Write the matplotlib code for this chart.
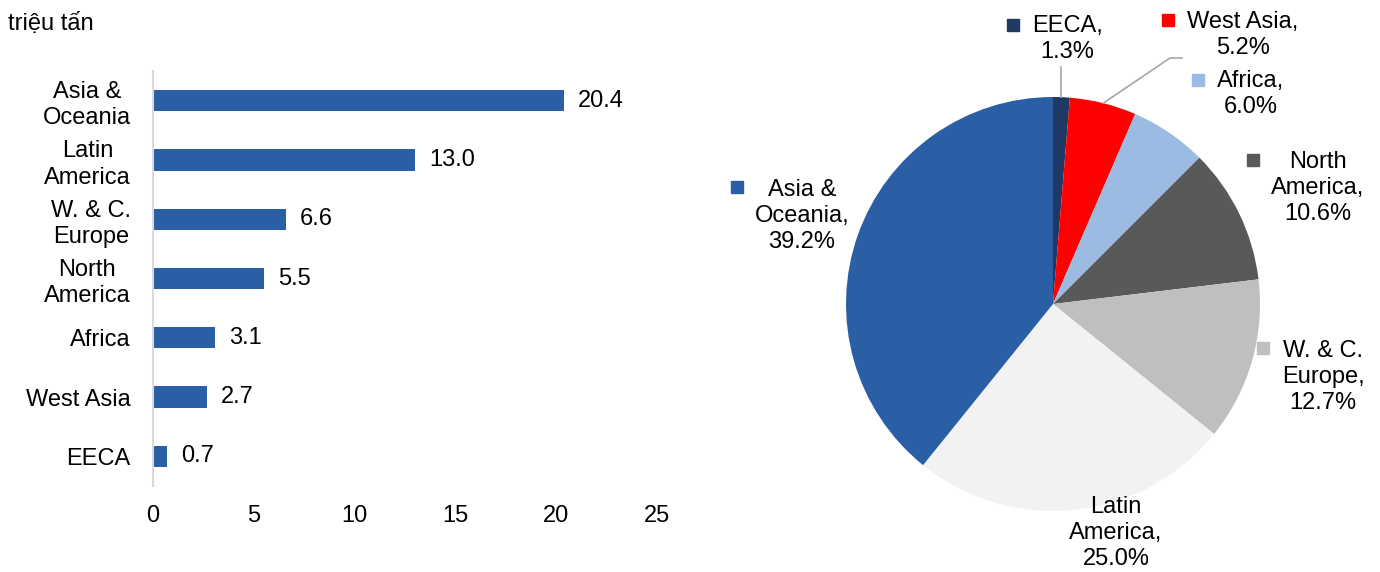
import numpy as np
import matplotlib.pyplot as plt

plt.rcParams['font.family'] = ['Liberation Sans', 'DejaVu Sans']

# bar chart data (triệu tấn)
bar_regions = ['Asia &\nOceania', 'Latin\nAmerica', 'W. & C.\nEurope', 'North\nAmerica',
               'Africa', 'West Asia', 'EECA']
bar_values = [20.4, 13.0, 6.6, 5.5, 3.1, 2.7, 0.7]
x_ticks = [0, 5, 10, 15, 20, 25]

# pie chart data (share, %)
pie_regions = ['EECA', 'West Asia', 'Africa', 'North\nAmerica', 'W. & C.\nEurope',
               'Latin\nAmerica', 'Asia &\nOceania']
pie_shares = [1.3, 5.2, 6.0, 10.6, 12.7, 25.0, 39.2]
pie_colors = ['#1F3864', '#FF0000', '#9BBBE3', '#595959', '#BFBFBF', '#F2F2F2', '#2B5FA5']

blue = '#2B5FA5'
fs = 17
W, H = 1380, 572

fig = plt.figure(figsize=(13.8, 5.72), dpi=100)

# ---- bar chart ----
ax = fig.add_axes([153 / W, 1 - 486 / H, 504 / W, 415 / H])
y = np.arange(len(bar_values))
bars = ax.barh(y, bar_values, height=0.36, color=blue)
ax.bar_label(bars, labels=[f'{v:.1f}' for v in bar_values], padding=10, fontsize=fs)
ax.set_xlim(0, 25)
ax.set_ylim(-0.5, len(bar_values) - 0.5)
ax.invert_yaxis()
ax.set_xticks(x_ticks)
ax.set_yticks(y)
ax.set_yticklabels(bar_regions, fontsize=fs, multialignment='center', linespacing=1.25)
ax.tick_params(axis='y', length=0, pad=16)
ax.tick_params(axis='x', length=0, pad=14, labelsize=fs)
for s in ['top', 'right', 'bottom']:
    ax.spines[s].set_visible(False)
ax.spines['left'].set_color('#D9D9D9')
ax.spines['left'].set_linewidth(1.5)

fig.text(8 / W, 1 - 24 / H, 'triệu tấn', fontsize=fs, va='center', ha='left')

# ---- pie chart ----
cx, cy, r = 1053, 304, 207
pax = fig.add_axes([(cx - r) / W, 1 - (cy + r) / H, 2 * r / W, 2 * r / H])
wedges, _ = pax.pie(pie_shares, colors=pie_colors, startangle=90, counterclock=False,
                    radius=1, wedgeprops=dict(linewidth=0))
pax.set_xlim(-1, 1)
pax.set_ylim(-1, 1)


def px(x, yy):
    # figure pixel -> pie data coords
    return (x - cx) / r, (cy - yy) / r


# label layout: text block centre, square marker position
label_pos = [(1067, 39), (1243, 35), (1251, 94), (1318, 188), (1323, 377), (1116, 533), (802, 216)]
square_pos = [(1013, 25), (1168, 20), (1198, 80), (1253, 160), (1263, 348), None, (737, 187)]

for name, share, col, lp, sp in zip(pie_regions, pie_shares, pie_colors, label_pos, square_pos):
    tx, ty = px(*lp)
    pax.text(tx, ty, f'{name},\n{share:.1f}%', fontsize=fs, ha='center', va='center',
             multialignment='center', linespacing=1.25)
    if sp is not None:
        sx, sy = px(*sp)
        pax.plot(sx, sy, marker='s', ms=9, color=col, clip_on=False)


def edge(w):
    a = np.deg2rad((w.theta1 + w.theta2) / 2)
    return np.cos(a), np.sin(a)


# leader lines
ex, ey = edge(wedges[0])
lx, ly = px(1062, 67)
pax.plot([ex, ex], [ey, ly], color='#A6A6A6', lw=1.2, clip_on=False)
ex, ey = edge(wedges[1])
p1 = px(1170, 58)
p2 = px(1182, 58)
pax.plot([ex, p1[0], p2[0]], [ey, p1[1], p2[1]], color='#A6A6A6', lw=1.2, clip_on=False)

fig.savefig('out.png', dpi=100, facecolor='white')
